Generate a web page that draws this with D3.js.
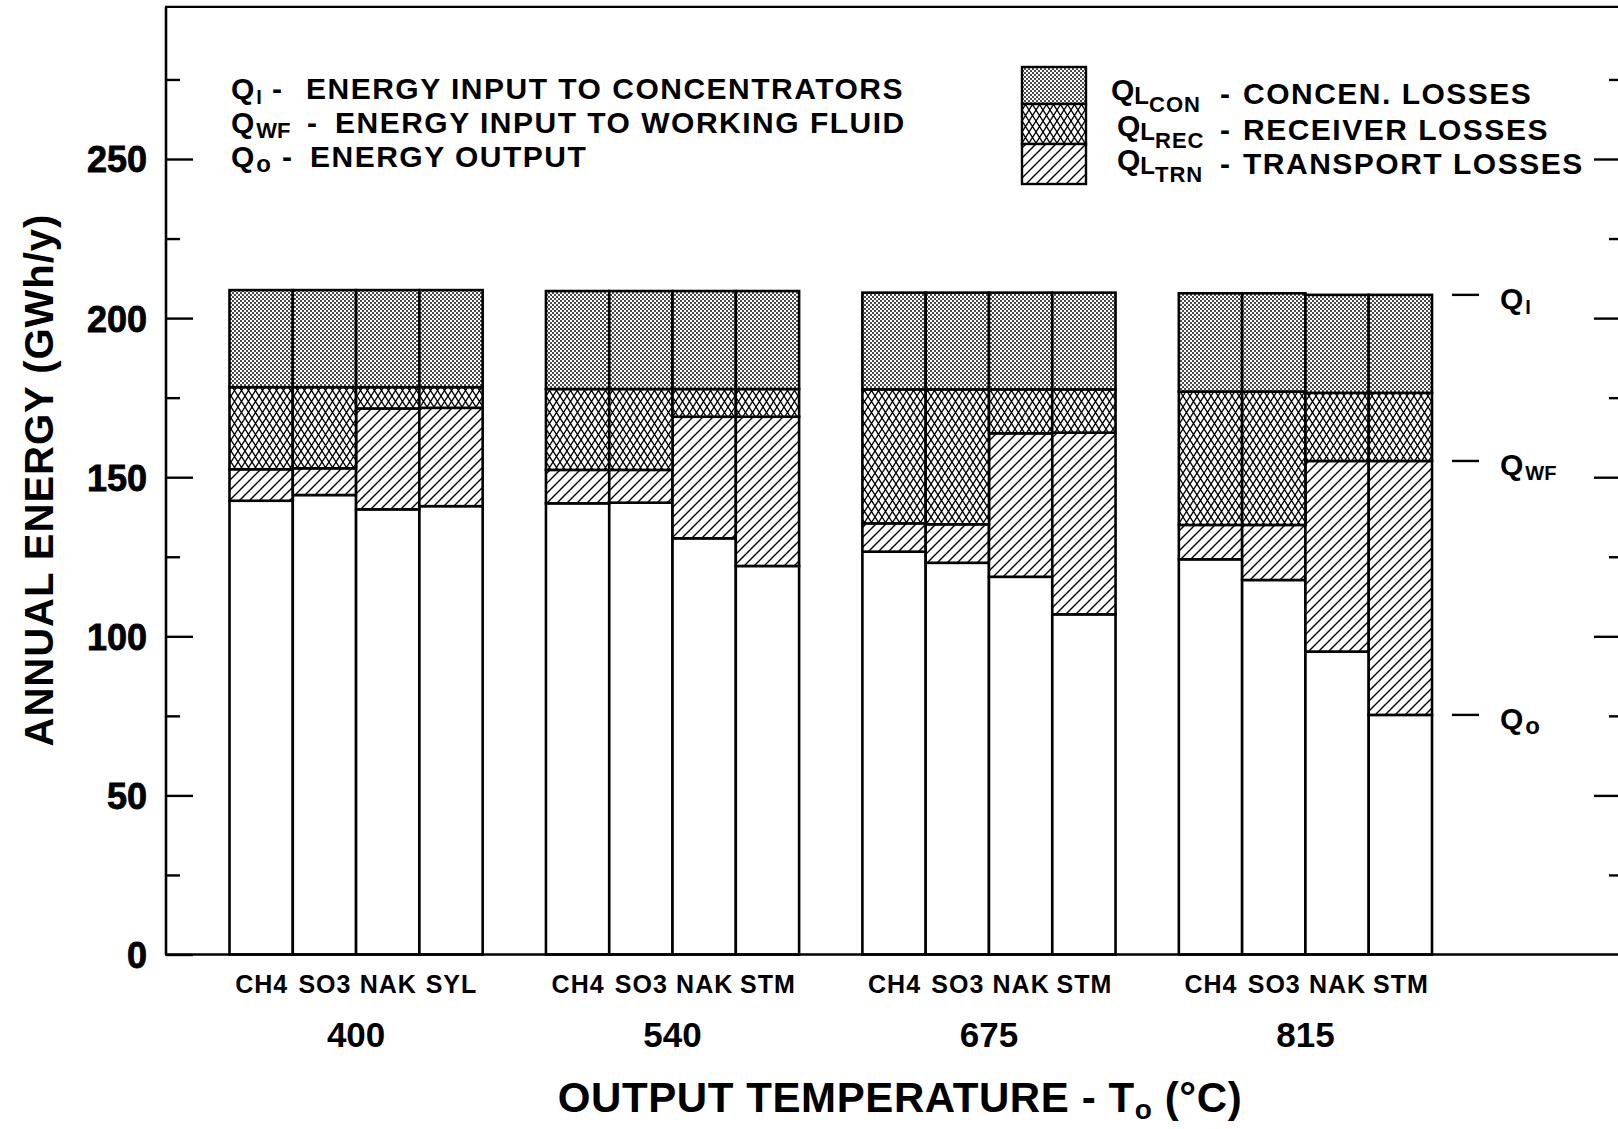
<!DOCTYPE html>
<html>
<head>
<meta charset="utf-8">
<script src="https://cdn.jsdelivr.net/npm/d3@7"></script>
<style>
  html, body { margin: 0; padding: 0; background: #fff; }
  svg { display: block; }
  text { font-family: "Liberation Sans", Arial, Helvetica, sans-serif; font-weight: bold; fill: #000; }
</style>
</head>
<body>
<svg id="chart" width="1618" height="1129"></svg>
<script>
// ---------------- DATA ----------------
const temps = ["400", "540", "675", "815"];
const fluids = [
  ["CH4", "SO3", "NAK", "SYL"],
  ["CH4", "SO3", "NAK", "STM"],
  ["CH4", "SO3", "NAK", "STM"],
  ["CH4", "SO3", "NAK", "STM"]
];
// GWh/y, 16 bars in order (temperature groups x fluids)
const qOut  = [142.6, 144.4, 139.9, 140.9,  141.8, 142.0, 130.8, 122.1,  126.6, 123.1, 118.7, 106.9,  124.2, 117.7, 95.2, 75.3];
const qlTrn = [9.9, 8.4, 31.7, 30.9,        10.5, 10.3, 38.2, 46.9,      8.9, 12.1, 45.1, 57.1,       10.8, 17.3, 59.9, 79.8];
const qlRec = [25.8, 25.5, 6.7, 6.5,        25.4, 25.4, 8.7, 8.7,        42.1, 42.4, 13.8, 13.6,      41.9, 41.9, 21.4, 21.4];
const qlCon = [30.5, 30.5, 30.5, 30.5,      30.8, 30.8, 30.8, 30.8,      30.4, 30.4, 30.4, 30.4,      30.9, 30.9, 30.8, 30.8];

const majorTicks = [0, 50, 100, 150, 200, 250];
const minorTicks = [25, 75, 125, 175, 225, 275];

const keys = ["out", "trn", "rec", "con"];
const legendTopLeft = [
  { q: "Q", sub: "I",  desc: "ENERGY INPUT TO CONCENTRATORS" },
  { q: "Q", sub: "WF", desc: "ENERGY INPUT TO WORKING FLUID" },
  { q: "Q", sub: "o",  desc: "ENERGY OUTPUT" }
];
const legendTopRight = [
  { key: "con", sub: "CON", desc: "CONCEN. LOSSES" },
  { key: "rec", sub: "REC", desc: "RECEIVER LOSSES" },
  { key: "trn", sub: "TRN", desc: "TRANSPORT LOSSES" }
];

// ---------------- BUILD ----------------
const records = [];
temps.forEach((t, g) => fluids[g].forEach((f, j) => {
  const i = g * 4 + j;
  records.push({ temp: t, idx: j, fluid: f, out: qOut[i], trn: qlTrn[i], rec: qlRec[i], con: qlCon[i] });
}));
const series = d3.stack().keys(keys)(records);

const svg = d3.select("#chart");
const W = 1618, H = 1129;
svg.append("rect").attr("width", W).attr("height", H).attr("fill", "#fff");

const axisX = 166;
const y = d3.scaleLinear().domain([0, 250]).range([954.5, 159]);
const yTopFrame = y(297.8);
const x0 = d3.scaleBand().domain(temps).range([229.5, 1432]).paddingInner(0.2).paddingOuter(0);
const x1 = d3.scaleBand().domain([0, 1, 2, 3]).range([0, x0.bandwidth()]);

// patterns
const defs = svg.append("defs");
const pCon = defs.append("pattern").attr("id", "pCon").attr("patternUnits", "userSpaceOnUse")
  .attr("width", 4).attr("height", 4);
pCon.append("rect").attr("width", 4).attr("height", 4).attr("fill", "#fff");
pCon.append("circle").attr("cx", 1).attr("cy", 1).attr("r", 0.95).attr("fill", "#000");
pCon.append("circle").attr("cx", 3).attr("cy", 3).attr("r", 0.95).attr("fill", "#000");

const pRec = defs.append("pattern").attr("id", "pRec").attr("patternUnits", "userSpaceOnUse")
  .attr("width", 7).attr("height", 11);
pRec.append("rect").attr("width", 7).attr("height", 11).attr("fill", "#fff");
pRec.append("path").attr("d", "M-1,-1.571L8,12.571M8,-1.571L-1,12.571")
  .attr("stroke", "#000").attr("stroke-width", 1.3).attr("fill", "none");

const pTrn = defs.append("pattern").attr("id", "pTrn").attr("patternUnits", "userSpaceOnUse")
  .attr("width", 10).attr("height", 10);
pTrn.append("rect").attr("width", 10).attr("height", 10).attr("fill", "#fff");
pTrn.append("path").attr("d", "M-1,11L11,-1M-1,1L1,-1M9,11L11,9")
  .attr("stroke", "#000").attr("stroke-width", 1.4).attr("fill", "none");

const fills = { out: "#fff", trn: "url(#pTrn)", rec: "url(#pRec)", con: "url(#pCon)" };

// bars
const gBars = svg.append("g");
series.forEach(s => {
  gBars.append("g").selectAll("rect").data(s).join("rect")
    .attr("x", d => x0(d.data.temp) + x1(d.data.idx))
    .attr("width", x1.bandwidth())
    .attr("y", d => y(d[1]))
    .attr("height", d => y(d[0]) - y(d[1]))
    .attr("fill", fills[s.key])
    .attr("stroke", "#000").attr("stroke-width", 2.6);
});

// frame lines
svg.append("line").attr("x1", axisX).attr("x2", axisX).attr("y1", yTopFrame).attr("y2", y(0))
  .attr("stroke", "#000").attr("stroke-width", 2.6);
svg.append("line").attr("x1", axisX - 1).attr("x2", W).attr("y1", yTopFrame).attr("y2", yTopFrame)
  .attr("stroke", "#000").attr("stroke-width", 2.4);
svg.append("line").attr("x1", axisX - 1).attr("x2", W).attr("y1", y(0)).attr("y2", y(0))
  .attr("stroke", "#000").attr("stroke-width", 2.6);

// left axis
const gL = svg.append("g").attr("transform", `translate(${axisX},0)`)
  .call(d3.axisLeft(y).tickValues(majorTicks).tickSizeInner(-27).tickSizeOuter(0).tickPadding(19)
    .tickFormat(d3.format("d")));
gL.select(".domain").remove();
gL.selectAll(".tick line").attr("stroke", "#000").attr("stroke-width", 2.4);
gL.selectAll(".tick text").attr("font-size", 36).attr("font-family", "Liberation Sans, Arial, sans-serif")
  .attr("font-weight", "bold").attr("fill", "#000").attr("dy", "0.36em")
  .attr("stroke", "#000").attr("stroke-width", 0.8);
const gLm = svg.append("g").attr("transform", `translate(${axisX},0)`)
  .call(d3.axisLeft(y).tickValues(minorTicks).tickSizeInner(-14).tickSizeOuter(0).tickFormat(""));
gLm.select(".domain").remove();
gLm.selectAll(".tick line").attr("stroke", "#000").attr("stroke-width", 2.4);

// right axis ticks
const gR = svg.append("g").attr("transform", `translate(${W},0)`)
  .call(d3.axisRight(y).tickValues(majorTicks.filter(v => v > 0)).tickSizeInner(-24).tickSizeOuter(0).tickFormat(""));
gR.select(".domain").remove();
gR.selectAll(".tick line").attr("stroke", "#000").attr("stroke-width", 2.4);
const gRm = svg.append("g").attr("transform", `translate(${W},0)`)
  .call(d3.axisRight(y).tickValues(minorTicks).tickSizeInner(-9).tickSizeOuter(0).tickFormat(""));
gRm.select(".domain").remove();
gRm.selectAll(".tick line").attr("stroke", "#000").attr("stroke-width", 2.4);

// fluid labels under each bar
svg.append("g").selectAll("text").data(records).join("text")
  .attr("x", d => x0(d.temp) + x1(d.idx) + x1.bandwidth() / 2 + 0.5)
  .attr("y", 993)
  .attr("text-anchor", "middle")
  .attr("font-size", 25).attr("letter-spacing", 1)
  .text(d => d.fluid);

// temperature labels
svg.append("g").selectAll("text").data(temps).join("text")
  .attr("x", d => x0(d) + x0.bandwidth() / 2)
  .attr("y", 1047)
  .attr("text-anchor", "middle")
  .attr("font-size", 35)
  .text(d => d);

// x axis title
const xt = svg.append("text").attr("x", 900).attr("y", 1112).attr("text-anchor", "middle")
  .attr("font-size", 42).attr("letter-spacing", 0.6);
xt.append("tspan").text("OUTPUT TEMPERATURE - T");
xt.append("tspan").attr("font-size", 28).attr("dy", 7).text("o");
xt.append("tspan").attr("dy", -7).text(" (°C)");

// y axis title
svg.append("text").attr("transform", "translate(53,480) rotate(-90)")
  .attr("text-anchor", "middle").attr("font-size", 40).attr("letter-spacing", 1)
  .text("ANNUAL ENERGY (GWh/y)");

// top-left legend
const tlY = [99, 133, 167];
const tlDash = [272, 307, 282];
const tlDesc = [306, 335, 310];
const tlSubSize = [20, 22, 24];
legendTopLeft.forEach((d, i) => {
  const t = svg.append("text").attr("x", 231).attr("y", tlY[i]).attr("font-size", 30);
  t.append("tspan").text(d.q);
  t.append("tspan").attr("font-size", tlSubSize[i]).attr("dy", 5).attr("dx", 2).text(d.sub);
  svg.append("text").attr("x", tlDash[i]).attr("y", tlY[i]).attr("font-size", 30).text("-");
  svg.append("text").attr("x", tlDesc[i]).attr("y", tlY[i]).attr("font-size", 30)
    .attr("letter-spacing", 1.5).text(d.desc);
});

// top-right legend
const swY = [67, 104, 144, 184];
const trY = [104, 140, 174];
const trQx = [1111, 1117, 1117];
legendTopRight.forEach((d, i) => {
  svg.append("rect").attr("x", 1022).attr("y", swY[i]).attr("width", 64).attr("height", swY[i + 1] - swY[i])
    .attr("fill", fills[d.key]).attr("stroke", "#000").attr("stroke-width", 2.4);
  const t = svg.append("text").attr("x", trQx[i]).attr("y", trY[i] - 4).attr("font-size", 30);
  t.append("tspan").text("Q");
  t.append("tspan").attr("font-size", 24).attr("dy", 4).text("L");
  t.append("tspan").attr("font-size", 22).attr("dy", 8).attr("letter-spacing", 1).text(d.sub);
  svg.append("text").attr("x", 1220).attr("y", trY[i]).attr("font-size", 30).text("-");
  svg.append("text").attr("x", 1243).attr("y", trY[i]).attr("font-size", 30)
    .attr("letter-spacing", 1.5).text(d.desc);
});

// right-side level labels (taken from last bar)
const last = records[records.length - 1];
const levels = [
  { v: last.out + last.trn + last.rec + last.con, sub: "I" },
  { v: last.out + last.trn, sub: "WF" },
  { v: last.out, sub: "o" }
];
levels.forEach(l => {
  svg.append("line").attr("x1", 1452).attr("x2", 1479).attr("y1", y(l.v)).attr("y2", y(l.v))
    .attr("stroke", "#000").attr("stroke-width", 2.4);
  const t = svg.append("text").attr("x", 1500).attr("y", y(l.v) + 14).attr("font-size", 30);
  t.append("tspan").text("Q");
  t.append("tspan").attr("font-size", l.sub === "o" ? 24 : 20).attr("dy", 5).attr("dx", 2).text(l.sub);
});
</script>
</body>
</html>
